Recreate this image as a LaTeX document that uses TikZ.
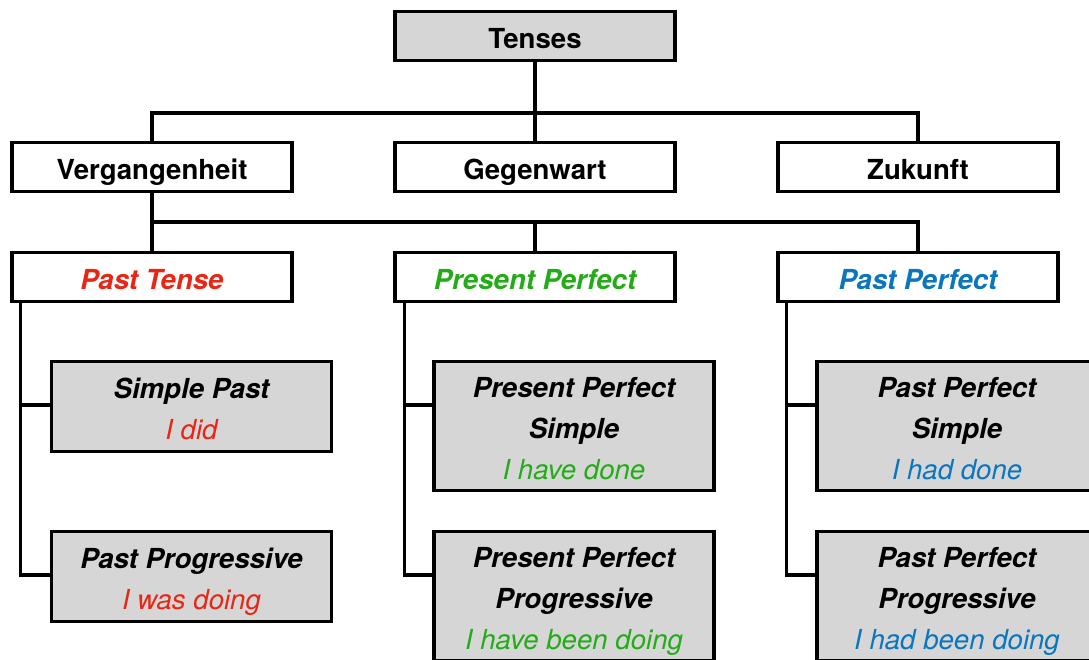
\documentclass[tikz,border=0pt]{standalone}
\usepackage{fontspec}
\setmainfont{TeX Gyre Heros}
\usepackage{xcolor}
\usetikzlibrary{positioning}

\definecolor{pastred}{RGB}{232,38,22}
\definecolor{presgreen}{RGB}{36,172,24}
\definecolor{perfblue}{RGB}{10,118,190}
\definecolor{boxgray}{RGB}{214,214,214}

\newcommand{\sentence}[2]{{\mdseries\color{#1}#2}}

\begin{document}
\begin{tikzpicture}[
    x=1pt, y=-1pt,
    every node/.style={font=\fontsize{27.6}{41}\selectfont\bfseries},
    box/.style={draw, line width=3.2pt, minimum width=280pt, minimum height=49pt, inner sep=0pt, align=center, text height=26pt, text depth=0pt},
    graybox/.style={box, fill=boxgray},
    tensebox/.style={box, font=\fontsize{27.6}{41}\selectfont\bfseries\itshape},
    formbox/.style={graybox, font=\fontsize{27.6}{41}\selectfont\bfseries\itshape},
    twolines/.style={formbox, minimum height=90pt, text height=66pt},
    threelines/.style={formbox, minimum height=129pt, text height=107pt},
    link/.style={line width=3.2pt}
  ]
  \useasboundingbox (0,0) rectangle (1089,660);
  % Root
  \node[graybox] (tenses) at (535,36) {Tenses};
  % Zeitstufen
  \node[box] (vg) at (152,167) {Vergangenheit};
  \node[box] (gw) at (535,167) {Gegenwart};
  \node[box] (zk) at (918,167) {Zukunft};
  % Tenses der Vergangenheit
  \node[tensebox, text=pastred]   (pt) at (152,277) {Past Tense};
  \node[tensebox, text=presgreen] (pp) at (535,277) {Present Perfect};
  \node[tensebox, text=perfblue]  (pf) at (918,277) {Past Perfect};
  % Formen
  \node[twolines] (sp)  at (191.5,406.5) {Simple Past\\\sentence{pastred}{I did}};
  \node[twolines] (prg) at (191.5,576.5) {Past Progressive\\\sentence{pastred}{I was doing}};
  \node[threelines] (pps) at (574,426) {Present Perfect\\Simple\\\sentence{presgreen}{I have done}};
  \node[threelines] (ppp) at (574,596) {Present Perfect\\Progressive\\\sentence{presgreen}{I have been doing}};
  \node[threelines] (pfs) at (957,426) {Past Perfect\\Simple\\\sentence{perfblue}{I had done}};
  \node[threelines] (pfp) at (957,596) {Past Perfect\\Progressive\\\sentence{perfblue}{I had been doing}};
  % Verbindungen
  \coordinate (j1) at (535,113);
  \coordinate (j2) at (152,222);
  \draw[link] (tenses.south) -- (gw.north);
  \draw[link] (vg.north) |- (j1) -| (zk.north);
  \draw[link] (vg.south) -- (pt.north);
  \draw[link] (j2) -| (pp.north);
  \draw[link] (j2) -| (pf.north);
  \draw[link] ([xshift=10pt]pt.south west) |- ([yshift=-45pt]sp.north west);
  \draw[link] ([xshift=10pt]pt.south west) |- ([yshift=-45pt]prg.north west);
  \draw[link] ([xshift=11pt]pp.south west) |- ([yshift=-45pt]pps.north west);
  \draw[link] ([xshift=11pt]pp.south west) |- ([yshift=-45pt]ppp.north west);
  \draw[link] ([xshift=10pt]pf.south west) |- ([yshift=-45pt]pfs.north west);
  \draw[link] ([xshift=10pt]pf.south west) |- ([yshift=-45pt]pfp.north west);
\end{tikzpicture}
\end{document}
